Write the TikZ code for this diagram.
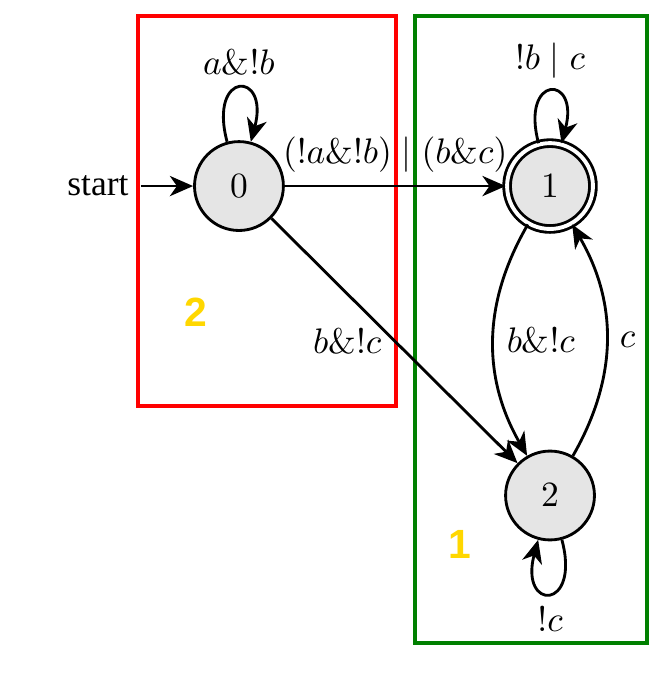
\documentclass[tikz,border=0pt]{standalone}
\usepackage{fontspec}
\newfontfamily\startfont{Liberation Serif}
\newfontfamily\tagfont{Liberation Sans}
\usetikzlibrary{arrows.meta}
\definecolor{gold}{RGB}{255,215,0}

\begin{document}
\begin{tikzpicture}[
  st/.style={circle, draw, line width=0.8pt, fill=gray!20, minimum size=8.8mm, inner sep=0pt},
  acc/.style={st, double, double distance=1.1pt, minimum size=8.5mm},
  arr/.style={-{Stealth[length=2.3mm, width=2mm, inset=0.7mm]}, line width=0.8pt},
  part/.style={line width=1.3pt},
  tag/.style={font=\tagfont\bfseries\fontsize{11.5}{13}\selectfont, text=gold}]
  \useasboundingbox (-2.366,1.842) rectangle (4.089,-5.079);
  % ---------------- partition boxes
  \draw[part, red] (-1.0,1.683) rectangle (1.555,-2.178);
  \draw[part, green!50!black] (1.743,1.683) rectangle (4.04,-4.525);
  \node[tag] (t2) at (-0.426,-1.248) {2};
  \node[tag] (t1) at (2.19,-3.55) {1};
  % ---------------- states
  \node[st] (q0) at (0,0) {$0$};
  \node[acc] (q1) at (3.08,0) {$1$};
  \node[st] (q2) at (3.08,-3.064) {$2$};
  \node[font=\startfont, anchor=east] (start) at (-0.97,0) {start};
  % ---------------- transitions
  \draw[arr] (start) -- (q0);
  \draw[arr] (q0) to[loop above] node[above] {$a\&!b$} (q0);
  \draw[arr] (q0) -- node[above] {$(!a\&!b) \mid (b\&c)$} (q1);
  \draw[arr] (q0) -- node[left] {$b\&!c$} (q2);
  \draw[arr] (q1) to[loop above] node[above] {$!b \mid c$} (q1);
  \draw[arr] (q1) to[bend right] node[right] {$b\&!c$} (q2);
  \draw[arr] (q2) to[bend right] node[right] {$c$} (q1);
  \draw[arr] (q2) to[loop below] node[below] {$!c$} (q2);
\end{tikzpicture}
\end{document}
